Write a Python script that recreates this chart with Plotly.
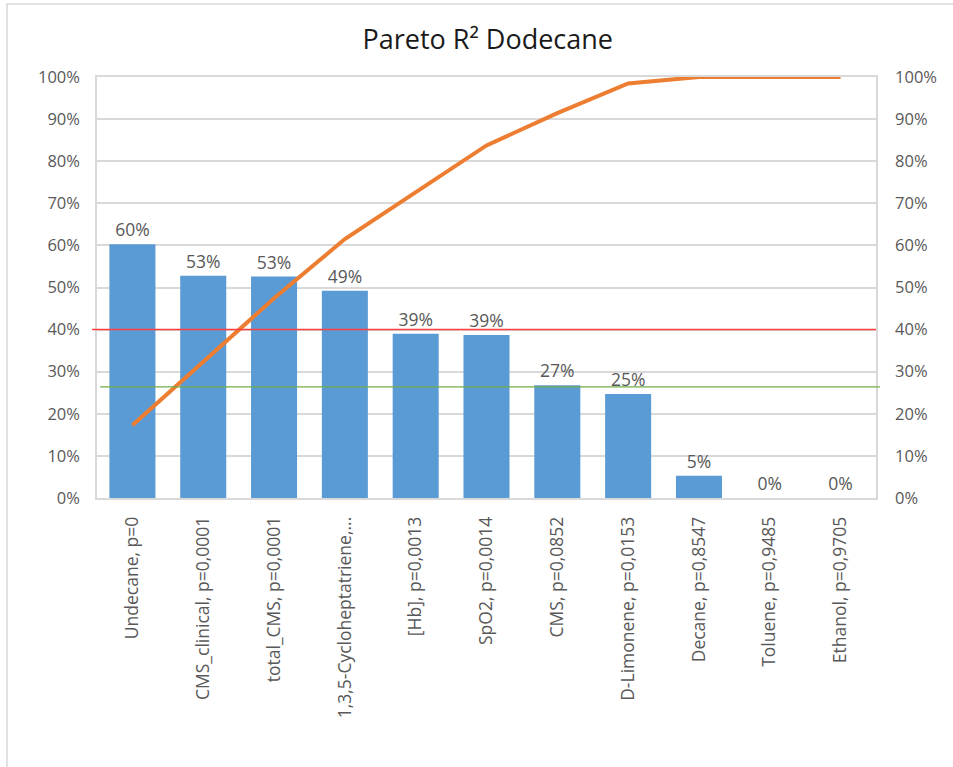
import plotly.graph_objects as go

# Predictors of dodecane, sorted by explained variance (R²)
categories = [
    "Undecane, p=0",
    "CMS_clinical, p=0,0001",
    "total_CMS, p=0,0001",
    "1,3,5-Cycloheptatriene,...",
    "[Hb], p=0,0013",
    "SpO2, p=0,0014",
    "CMS, p=0,0852",
    "D-Limonene, p=0,0153",
    "Decane, p=0,8547",
    "Toluene, p=0,9485",
    "Ethanol, p=0,9705",
]
r2_values = [0.603, 0.528, 0.526, 0.492, 0.390, 0.387, 0.268, 0.247, 0.053, 0.0, 0.0]

# Reference thresholds
threshold_red = 0.40
threshold_green = 0.264

# Cumulative share of the total R²
total = sum(r2_values)
cumulative = []
running = 0.0
for v in r2_values:
    running += v
    cumulative.append(running / total)

tick_vals = [i / 10 for i in range(11)]

FONT = "Open Sans"
GRAY = "#595959"
GRID = "#d9d9d9"

fig = go.Figure()

fig.add_trace(go.Bar(
    x=categories,
    y=r2_values,
    marker=dict(color="#5b9bd5", line=dict(width=0)),
    texttemplate="%{y:.0%}",
    textposition="outside",
    textfont=dict(family=FONT, size=17.5, color=GRAY),
    cliponaxis=False,
    name="R²",
))

fig.add_trace(go.Scatter(
    x=categories,
    y=cumulative,
    mode="lines",
    line=dict(color="#ed7d31", width=4),
    yaxis="y2",
    name="Cumulative",
))

# Threshold lines
fig.add_shape(type="line", xref="paper", yref="y",
              x0=-0.0064, x1=1.0, y0=threshold_red, y1=threshold_red,
              line=dict(color="#ff4040", width=1.5))
fig.add_shape(type="line", xref="paper", yref="y",
              x0=0.004, x1=1.005, y0=threshold_green, y1=threshold_green,
              line=dict(color="#70ad47", width=1.1))

# Chart area border
fig.add_shape(type="rect", xref="paper", yref="paper",
              x0=-0.1155, x1=1.2, y0=-0.8, y1=1.1734,
              line=dict(color=GRID, width=1.5), fillcolor="rgba(0,0,0,0)",
              layer="below")

fig.update_layout(
    width=953,
    height=767,
    margin=dict(l=97, r=77, t=77, b=269),
    paper_bgcolor="white",
    plot_bgcolor="white",
    showlegend=False,
    bargap=0.35,
    title=dict(
        text="Pareto R² Dodecane",
        x=0.5118, xanchor="center",
        y=0.948, yanchor="middle",
        font=dict(family=FONT, size=27, color="#1a1a1a"),
    ),
    xaxis=dict(
        tickangle=-90,
        tickfont=dict(family=FONT, size=17.5, color=GRAY),
        showline=True, linecolor=GRID, linewidth=1.5,
        mirror=True,
        ticks="outside", ticklen=10, tickcolor="rgba(0,0,0,0)",
        showgrid=False,
    ),
    yaxis=dict(
        range=[0, 1],
        tickvals=tick_vals,
        tickformat=".0%",
        tickfont=dict(family=FONT, size=16.5, color=GRAY),
        showgrid=True, gridcolor=GRID, gridwidth=1.5,
        showline=True, linecolor=GRID, linewidth=1.5,
        zeroline=False,
        ticks="outside", ticklen=12, tickcolor="rgba(0,0,0,0)",
    ),
    yaxis2=dict(
        range=[0, 1],
        tickvals=tick_vals,
        tickformat=".0%",
        tickfont=dict(family=FONT, size=16.5, color=GRAY),
        overlaying="y",
        side="right",
        showgrid=False,
        showline=True, linecolor=GRID, linewidth=1.5,
        zeroline=False,
        ticks="outside", ticklen=14, tickcolor="rgba(0,0,0,0)",
    ),
)

fig.write_html("out.html")
